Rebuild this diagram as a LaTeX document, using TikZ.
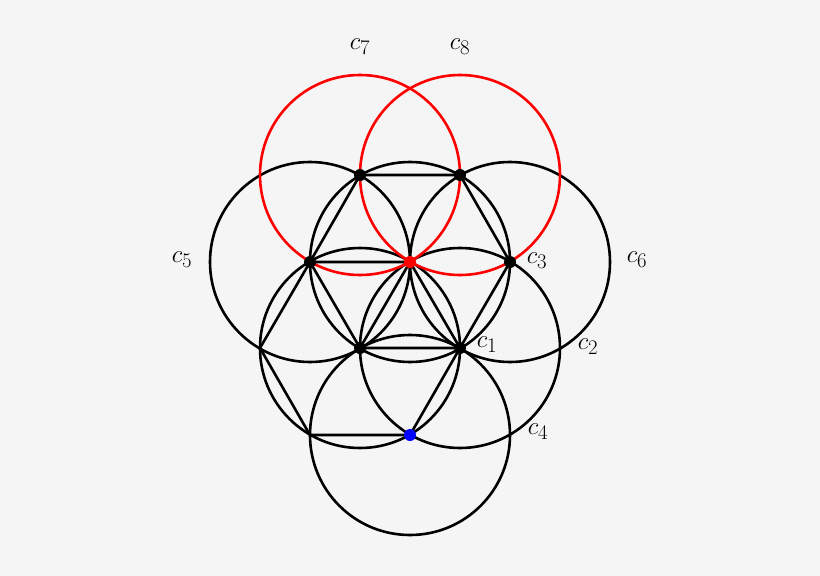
\documentclass[tikz,border=0pt]{standalone}
\begin{document}
\begin{tikzpicture}[x=1pt,y=-1pt,
  circ/.style={line width=2.6pt},
  rc/.style={circ,red!90!black,draw=red},
  edge/.style={line width=2.6pt},
  dot/.style={circle,fill=black,inner sep=0pt,minimum size=12pt},
  lab/.style={font=\fontsize{30}{30}\selectfont}]
\fill[black!4] (0,0) rectangle (820,576);
\useasboundingbox (0,0) rectangle (820,576);
\coordinate (a) at (360,175); \coordinate (b) at (460,175);
\coordinate (c) at (310,262); \coordinate (o) at (410,262); \coordinate (d) at (510,262);
\coordinate (e) at (260,348); \coordinate (f) at (360,348); \coordinate (g) at (460,348);
\coordinate (h) at (310,435); \coordinate (k) at (410,435);
\foreach \p in {c,d,o,f,g,k} \draw[circ] (\p) circle (100);
\draw[circ,red] (a) circle (100);
\draw[circ,red] (b) circle (100);
\draw[edge] (a)--(b) (a)--(c) (b)--(d) (c)--(o) (c)--(e) (c)--(f) (o)--(f) (o)--(g) (d)--(g) (f)--(g) (e)--(h) (h)--(k) (k)--(g);
\foreach \p in {a,b,c,d,f,g} \node[dot] (n\p) at (\p) {};
\node[dot,fill=red] (no) at (o) {};
\node[dot,fill=blue] (nk) at (k) {};
\node[lab] (l1) at (487,345) {$c_1$};
\node[lab] (l2) at (588,347) {$c_2$};
\node[lab] (l3) at (537,261) {$c_3$};
\node[lab] (l4) at (538,432) {$c_4$};
\node[lab] (l5) at (182,260) {$c_5$};
\node[lab] (l6) at (637,260) {$c_6$};
\node[lab] (l7) at (360,47) {$c_7$};
\node[lab] (l8) at (460,47) {$c_8$};
\end{tikzpicture}
\end{document}
